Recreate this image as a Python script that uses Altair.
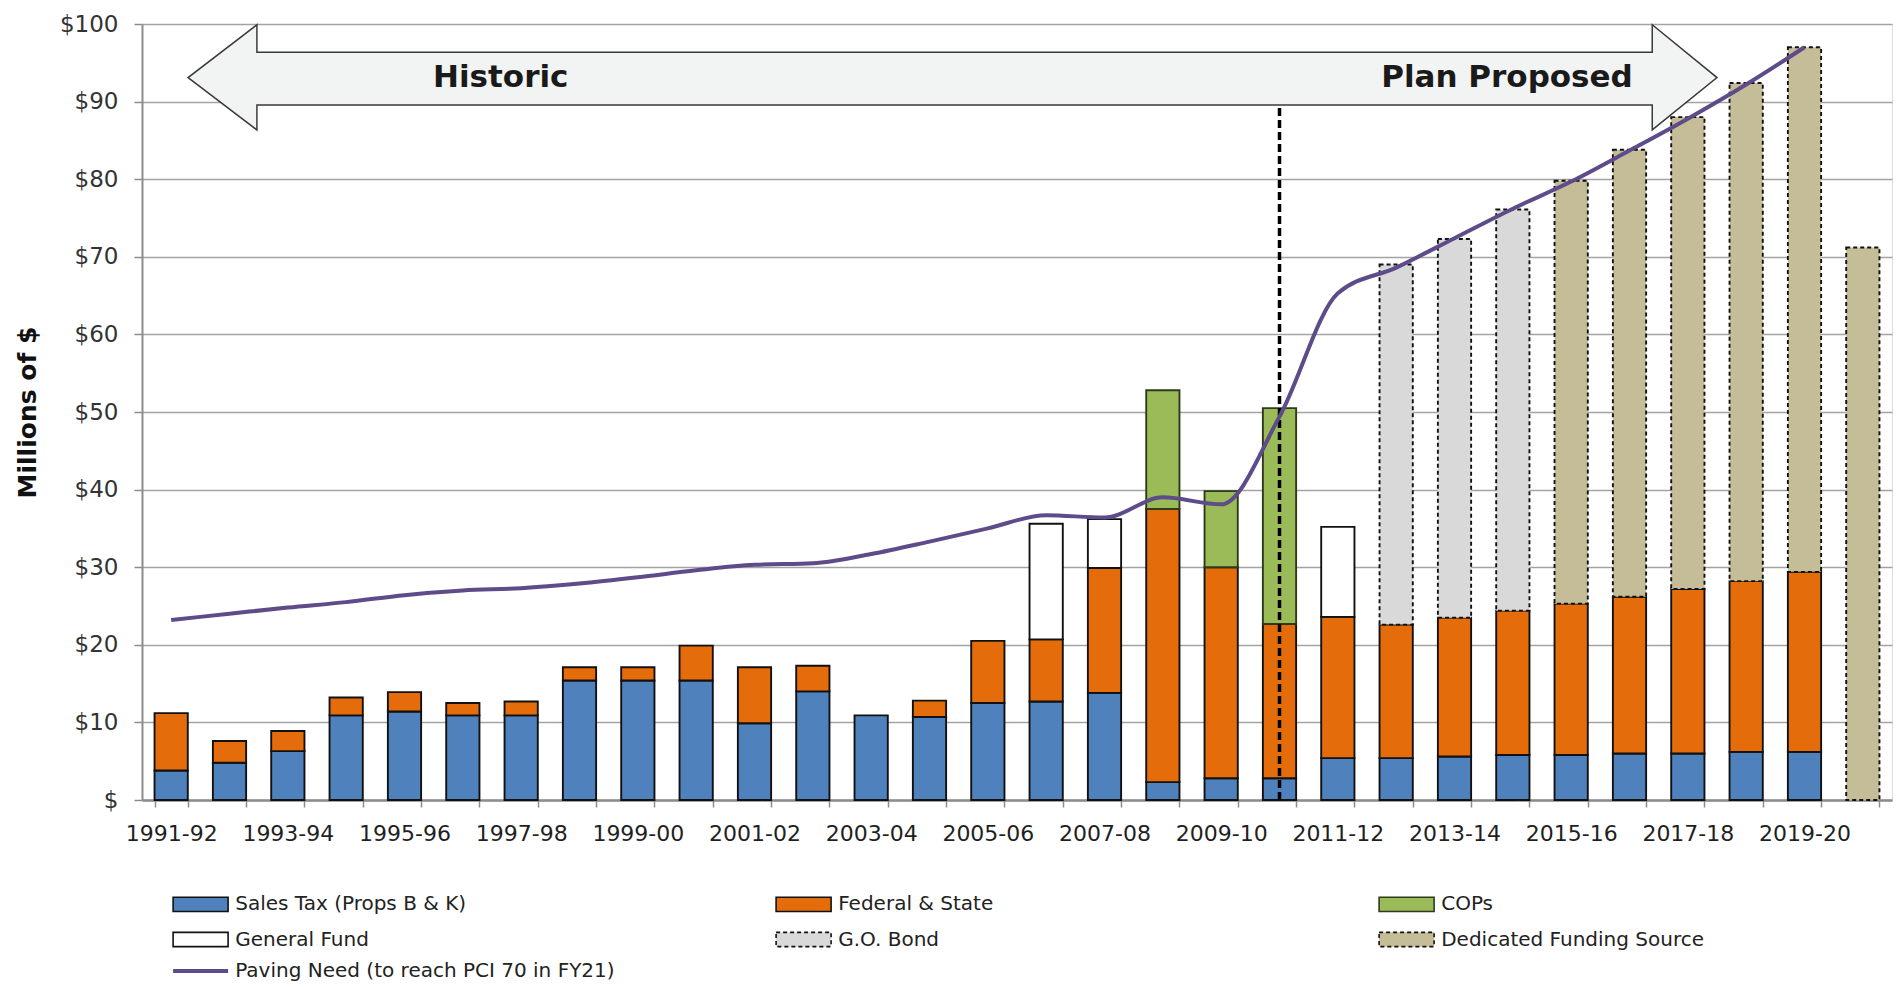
import json
import altair as alt
import pandas as pd

# Fiscal years on the x axis
years = [
    "1991-92", "1992-93", "1993-94", "1994-95", "1995-96", "1996-97",
    "1997-98", "1998-99", "1999-00", "2000-01", "2001-02", "2002-03",
    "2003-04", "2004-05", "2005-06", "2006-07", "2007-08", "2008-09",
    "2009-10", "2010-11", "2011-12", "2012-13", "2013-14", "2014-15",
    "2015-16", "2016-17", "2017-18", "2018-19", "2019-20", "2020-21",
]

# Funding by source, millions of dollars (segment heights, one per year)
sales_tax = [3.8, 4.8, 6.3, 10.9, 11.4, 10.9, 10.9, 15.4, 15.4, 15.4,
             9.9, 14.0, 10.9, 10.7, 12.5, 12.7, 13.8, 2.3, 2.8, 2.8,
             5.4, 5.4, 5.6, 5.8, 5.8, 6.0, 6.0, 6.2, 6.2, 0]
federal_state = [7.4, 2.8, 2.6, 2.3, 2.5, 1.6, 1.8, 1.7, 1.7, 4.5,
                 7.2, 3.3, 0, 2.1, 8.0, 8.0, 16.1, 35.2, 27.2, 19.9,
                 18.2, 17.2, 17.9, 18.6, 19.5, 20.2, 21.2, 22.0, 23.2, 0]
cops = [0, 0, 0, 0, 0, 0, 0, 0, 0, 0,
        0, 0, 0, 0, 0, 0, 0, 15.3, 9.8, 27.8,
        0, 0, 0, 0, 0, 0, 0, 0, 0, 0]
general_fund = [0, 0, 0, 0, 0, 0, 0, 0, 0, 0,
                0, 0, 0, 0, 0, 14.9, 6.3, 0, 0, 0,
                11.6, 0, 0, 0, 0, 0, 0, 0, 0, 0]
go_bond = [0, 0, 0, 0, 0, 0, 0, 0, 0, 0,
           0, 0, 0, 0, 0, 0, 0, 0, 0, 0,
           0, 46.4, 48.8, 51.7, 0, 0, 0, 0, 0, 0]
dedicated = [0, 0, 0, 0, 0, 0, 0, 0, 0, 0,
             0, 0, 0, 0, 0, 0, 0, 0, 0, 0,
             0, 0, 0, 0, 54.5, 57.6, 60.8, 64.2, 67.6, 71.2]

# Paving need through 2019-20
paving_need = [23.2, 24.0, 24.8, 25.5, 26.4, 27.0, 27.3, 27.9, 28.7, 29.6,
               30.3, 30.5, 31.7, 33.3, 35.0, 36.7, 36.4, 39.0, 38.1, 49.4,
               65.3, 68.6, 72.4, 76.2, 79.7, 83.7, 87.8, 92.2, 97.0]

source_names = ["Sales Tax (Props B & K)", "Federal & State", "COPs",
                "General Fund", "G.O. Bond", "Dedicated Funding Source"]
source_values = [sales_tax, federal_state, cops, general_fund, go_bond, dedicated]
source_colors = ["#4F81BD", "#E46C0A", "#9BBB59", "#FFFFFF", "#D9D9D9", "#C4BD97"]
source_edges = ["#111111", "#111111", "#2E3A1A", "#111111", "#111111", "#111111"]
source_dashes = [[1, 0], [1, 0], [1, 0], [1, 0], [4, 3], [4, 3]]
need_name = "Paving Need (to reach PCI 70 in FY21)"
split_year = "2010-11"

FONT = "DejaVu Sans"

rows = []
for rank, (name, vals) in enumerate(zip(source_names, source_values)):
    for yr, v in zip(years, vals):
        if v > 0:
            rows.append({"year": yr, "source": name, "value": v, "rank": rank})
bars_df = pd.DataFrame(rows)

# The need line is placed by year position, which lines up with the band centres
need_df = pd.DataFrame({
    "pos": [years.index(y) for y in years[:len(paving_need)]],
    "need": paving_need,
    "series": need_name,
})

# Double-headed "Historic / Plan Proposed" arrow, in year-position units
arrow_df = pd.DataFrame({
    "x": [0.29, 1.47, 1.4701, 25.39, 25.3901, 26.5],
    "lo": [93.1, 86.35, 89.55, 89.55, 86.35, 93.1],
    "hi": [93.1, 99.9, 96.35, 96.35, 99.9, 93.1],
})
arrow_text_df = pd.DataFrame({
    "x": [5.65, 22.9],
    "y": [93.0, 93.0],
    "text": ["Historic", "Plan Proposed"],
})
split_df = pd.DataFrame({"x": [years.index(split_year)], "y": [0], "y2": [89.55]})

shown_labels = years[::2]
x_label_expr = f"indexof({json.dumps(shown_labels)}, datum.value) >= 0 ? datum.label : ''"

y_scale = alt.Scale(domain=[0, 100], nice=False, zero=True)
pos_scale = alt.Scale(domain=[-0.5, len(years) - 0.5], nice=False, zero=False)

y_axis = alt.Axis(
    values=list(range(0, 101, 10)),
    labelExpr="datum.value == 0 ? '$' : '$' + datum.value",
    labelFont=FONT, labelFontSize=23, labelColor="#333", labelPadding=16,
    tickSize=8, tickColor="#8C8C8C", tickWidth=1.5,
    domainColor="#8C8C8C", domainWidth=2,
    grid=True, gridColor="#A3A3A3", gridWidth=1.7,
    title="Millions of $", titleFont=FONT, titleFontSize=25,
    titleFontWeight="bold", titleColor="#111",
    titleAngle=270, titleX=-115, titleY=388,
    titleAlign="center", titleBaseline="middle",
)

x_axis = alt.Axis(
    title=None, labelAngle=0, tickBand="extent", labelExpr=x_label_expr,
    labelFont=FONT, labelFontSize=22, labelColor="#1F1F1F", labelPadding=16,
    tickSize=7, tickColor="#8C8C8C", tickWidth=1.5,
    domainColor="#8C8C8C", domainWidth=2.5, grid=False,
)
x_band = alt.Scale(domain=years, paddingInner=0.43, paddingOuter=0.215)

# Legend swatches: a wide rectangle drawn outside the nominal symbol box,
# so the row height follows the label rather than the swatch width
SWATCH = "M-4,-1.04H4V1.04H-4Z"
SWATCH_LINE = "M-4,0H4"
legend_common = dict(
    title=None, orient="none", padding=0, direction="horizontal",
    labelFont=FONT, labelFontSize=20, labelColor="#222", labelLimit=400,
    labelOffset=24.6, symbolSize=189,
)

bar_legend = alt.Legend(
    legendX=48.6, legendY=870, columns=3, columnPadding=274, rowPadding=13.5,
    gridAlign="all", symbolType=SWATCH, symbolOpacity=1, symbolStrokeWidth=1.6,
    symbolFillColor="#FFFFFF",
    **legend_common,
)
line_legend = alt.Legend(
    legendX=48.6, legendY=937, symbolType=SWATCH_LINE, symbolStrokeWidth=4,
    **legend_common,
)

bars = alt.Chart(bars_df).mark_bar(strokeWidth=1.9, opacity=1).encode(
    x=alt.X("year:O", sort=years, scale=x_band, axis=x_axis),
    y=alt.Y("value:Q", stack="zero", scale=y_scale, axis=y_axis),
    fill=alt.Fill("source:N", scale=alt.Scale(domain=source_names, range=source_colors),
                  legend=bar_legend),
    stroke=alt.Stroke("source:N", scale=alt.Scale(domain=source_names, range=source_edges),
                      legend=bar_legend),
    strokeDash=alt.StrokeDash("source:N",
                              scale=alt.Scale(domain=source_names, range=source_dashes),
                              legend=bar_legend),
    order=alt.Order("rank:Q", sort="ascending"),
)

arrow = alt.Chart(arrow_df).mark_area(
    fill="#F2F3F3", stroke="#3A3A3A", strokeWidth=1.5, interpolate="linear", opacity=1
).encode(
    x=alt.X("x:Q", scale=pos_scale, axis=None),
    y=alt.Y("lo:Q", scale=y_scale, axis=y_axis),
    y2="hi:Q",
)

arrow_text = alt.Chart(arrow_text_df).mark_text(
    font=FONT, fontSize=31, fontWeight="bold", color="#1A1A1A",
    align="center", baseline="middle",
).encode(
    x=alt.X("x:Q", scale=pos_scale, axis=None),
    y=alt.Y("y:Q", scale=y_scale, axis=y_axis),
    text="text:N",
)

split_rule = alt.Chart(split_df).mark_rule(
    color="#000", strokeWidth=3.5, strokeDash=[8, 4]
).encode(
    x=alt.X("x:Q", scale=pos_scale, axis=None),
    y=alt.Y("y:Q", scale=y_scale, axis=y_axis),
    y2="y2:Q",
)

need_line = alt.Chart(need_df).mark_line(strokeWidth=4, interpolate="monotone").encode(
    x=alt.X("pos:Q", scale=pos_scale, axis=None),
    y=alt.Y("need:Q", scale=y_scale, axis=y_axis),
    color=alt.Color(
        "series:N", scale=alt.Scale(domain=[need_name], range=["#5E4B89"]),
        legend=line_legend,
    ),
)

bars_layer = alt.layer(bars)
overlay = alt.layer(arrow, arrow_text, split_rule, need_line)

chart = alt.layer(bars_layer, overlay).resolve_scale(x="independent").properties(
    width=1750, height=776,
    padding={"left": 142, "top": 24, "right": 11, "bottom": 187},
    autosize=alt.AutoSizeParams(type="none"),
).configure_view(stroke=None).configure(background="white")

chart.save("out.html", embed_options={"renderer": "svg", "actions": False})
